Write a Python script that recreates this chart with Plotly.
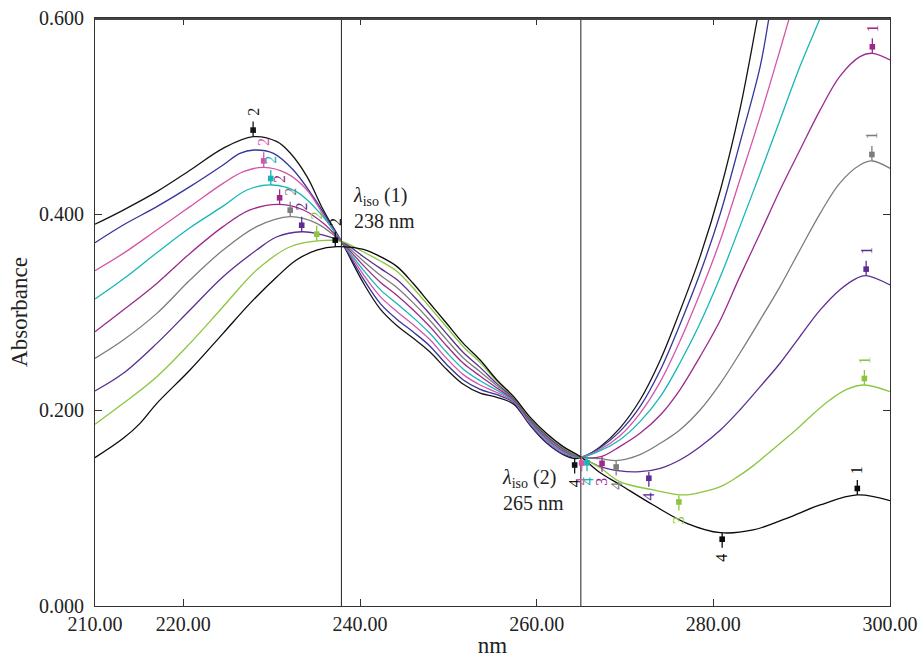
import plotly.graph_objects as go

# ---------------- data ----------------
MID = [240.4, 242.3, 244.2, 246.0, 247.9, 249.8, 251.7, 253.6, 255.5, 257.4, 259.2, 261.1, 263.0]

wl_black1 = [210.0, 213.2, 217.0, 220.8, 224.5, 227.9, 230.6, 232.1, 234.0, 235.85, 237.9] + MID + \
            [264.4, 265.6, 267.2, 269.4, 271.7, 274.0, 276.2, 278.5, 280.8, 283.0, 285.0, 286.0]
abs_black1 = [0.3895, 0.404, 0.4228, 0.4449, 0.467, 0.4789, 0.4738, 0.4622, 0.4381, 0.404, 0.372,
              0.3293, 0.3030, 0.2860, 0.2735, 0.2595, 0.2415, 0.2262, 0.2172, 0.2130, 0.2060, 0.1850, 0.1665, 0.1545,
              0.1505, 0.1535, 0.1626, 0.1813, 0.2102, 0.2511, 0.3004, 0.3565, 0.4245, 0.5062, 0.6000, 0.648]

wl_navy = [210.0, 213.2, 217.0, 220.75, 224.5, 226.4, 228.0, 230.2, 232.45, 234.7, 236.6, 237.9] + MID + \
          [265.0, 267.2, 269.4, 271.7, 274.0, 276.2, 278.5, 280.8, 283.0, 285.3, 286.3, 287.2]
abs_navy = [0.3707, 0.3888, 0.4075, 0.4279, 0.4500, 0.4619, 0.4653, 0.4619, 0.4449, 0.4177, 0.3905, 0.372,
            0.3335, 0.3086, 0.2924, 0.2798, 0.2654, 0.2465, 0.2306, 0.2211, 0.2156, 0.2076, 0.1857, 0.1672, 0.1551,
            0.152, 0.1616, 0.1779, 0.2034, 0.2408, 0.2868, 0.3395, 0.4007, 0.4721, 0.5504, 0.600, 0.645]

wl_pink = [210.0, 213.2, 217.0, 220.75, 224.5, 226.8, 229.1, 231.7, 234.0, 236.2, 237.9] + MID + \
          [265.0, 267.2, 269.4, 271.7, 274.0, 276.2, 278.5, 280.8, 283.0, 285.3, 287.55, 288.6, 289.6]
abs_pink = [0.3422, 0.3598, 0.3837, 0.4075, 0.4313, 0.4432, 0.4476, 0.4415, 0.4245, 0.3939, 0.372,
            0.3380, 0.3157, 0.3003, 0.2872, 0.2719, 0.2527, 0.2361, 0.2255, 0.2179, 0.2085, 0.1868, 0.1686, 0.1562,
            0.152, 0.1599, 0.1735, 0.1966, 0.2289, 0.2698, 0.3191, 0.3735, 0.4347, 0.4994, 0.5674, 0.600, 0.632]

wl_cyan = [210.0, 213.2, 217.0, 220.75, 224.5, 227.2, 230.0, 232.8, 235.5, 237.9] + MID + \
          [265.0, 267.2, 269.4, 271.7, 274.0, 276.2, 278.5, 280.8, 283.0, 285.3, 287.55, 289.8, 292.1, 293.1]
abs_cyan = [0.3132, 0.3336, 0.3605, 0.3860, 0.4080, 0.4245, 0.4296, 0.4228, 0.4007, 0.372,
            0.3425, 0.3228, 0.3083, 0.2945, 0.2783, 0.2589, 0.2417, 0.2299, 0.2201, 0.2094, 0.1879, 0.1699, 0.1573,
            0.152, 0.1585, 0.1694, 0.1881, 0.2136, 0.2477, 0.2885, 0.3361, 0.3871, 0.4415, 0.4960, 0.5504, 0.600, 0.622]

wl_magenta = [210.0, 213.2, 217.0, 220.75, 224.5, 227.55, 230.9, 233.6, 235.85, 237.9] + MID + \
             [265.0, 267.3, 269.4, 271.7, 274.0, 276.2, 278.5, 280.8, 283.0, 285.3, 287.55, 289.8, 292.1, 294.3, 296.6, 298.0, 300.0]
abs_magenta = [0.2799, 0.3020, 0.3292, 0.3598, 0.3871, 0.4041, 0.4099, 0.4041, 0.3905, 0.372,
               0.3473, 0.3304, 0.3169, 0.3023, 0.2852, 0.2656, 0.2476, 0.2347, 0.2224, 0.2103, 0.1891, 0.1713, 0.1585,
               0.152, 0.1525, 0.1626, 0.1762, 0.1949, 0.2204, 0.2545, 0.2919, 0.3361, 0.3803, 0.4245, 0.4653, 0.5062,
               0.5402, 0.5606, 0.5640, 0.5572]

wl_gray = [210.0, 213.2, 217.0, 220.75, 224.5, 228.3, 232.1, 235.1, 237.9] + MID + \
          [265.0, 267.2, 269.2, 271.7, 274.0, 276.2, 278.5, 280.8, 283.0, 285.3, 287.55, 289.8, 292.1, 294.3, 296.6, 298.0, 300.0]
abs_gray = [0.2527, 0.2714, 0.2986, 0.3326, 0.3632, 0.3871, 0.3973, 0.3905, 0.372,
            0.3519, 0.3375, 0.3248, 0.3096, 0.2916, 0.2718, 0.2531, 0.2391, 0.2247, 0.2112, 0.1902, 0.1726, 0.1596,
            0.152, 0.1503, 0.1485, 0.1545, 0.1660, 0.1796, 0.2000, 0.2272, 0.2579, 0.2919, 0.3259, 0.3633, 0.4007,
            0.4313, 0.4500, 0.4541, 0.4466]

wl_indigo = [210.0, 213.2, 217.0, 220.75, 224.5, 228.3, 230.6, 233.4, 235.85, 237.9] + MID + \
            [265.0, 267.2, 269.4, 271.7, 274.0, 276.2, 278.5, 280.8, 283.0, 285.3, 287.55, 289.8, 292.1, 294.3, 296.2, 297.3, 300.0]
abs_indigo = [0.2194, 0.2374, 0.2680, 0.3020, 0.3360, 0.3632, 0.3768, 0.3819, 0.3785, 0.372,
              0.3564, 0.3445, 0.3328, 0.3169, 0.2980, 0.2780, 0.2587, 0.2435, 0.2269, 0.2121, 0.1913, 0.1740, 0.1607,
              0.152, 0.1422, 0.1378, 0.1371, 0.1405, 0.1490, 0.1626, 0.1796, 0.2000, 0.2238, 0.2477, 0.2749, 0.3021,
              0.3225, 0.3344, 0.3371, 0.3276]

wl_green = [210.0, 213.2, 217.0, 220.75, 224.5, 228.3, 232.1, 235.5, 237.9] + MID + \
           [265.0, 267.2, 269.4, 273.2, 276.6, 278.9, 280.8, 282.6, 284.5, 286.5, 289.4, 291.3, 293.2, 295.1, 297.1, 300.0]
abs_green = [0.1854, 0.2068, 0.2340, 0.2680, 0.3054, 0.3428, 0.3666, 0.3728, 0.372,
             0.3612, 0.3521, 0.3414, 0.3248, 0.3049, 0.2847, 0.2646, 0.2483, 0.2292, 0.2131, 0.1925, 0.1754, 0.1619,
             0.152, 0.141, 0.1269, 0.1184, 0.1133, 0.1167, 0.1218, 0.131, 0.143, 0.158, 0.180, 0.196, 0.2102,
             0.221, 0.2255, 0.2187]

wl_black2 = [210.0, 213.2, 215.1, 217.0, 220.75, 224.5, 227.55, 230.6, 232.8, 235.1, 237.4] + MID + \
            [265.0, 267.2, 269.4, 273.2, 277.0, 280.8, 284.5, 288.3, 292.1, 296.3, 300.0]
abs_black2 = [0.1514, 0.1711, 0.1864, 0.2068, 0.2408, 0.2782, 0.3088, 0.3360, 0.3530, 0.3632, 0.3667,
              0.3640, 0.3565, 0.3463, 0.3293, 0.3089, 0.2885, 0.2680, 0.2510, 0.2306, 0.2136, 0.1932, 0.1762, 0.1626,
              0.152, 0.136, 0.124, 0.103, 0.0844, 0.0748, 0.0776, 0.0895, 0.1031, 0.1133, 0.1075]

series_names = ["black1", "navy", "pink", "cyan", "magenta", "gray", "indigo", "green", "black2"]
series_wl = [wl_black1, wl_navy, wl_pink, wl_cyan, wl_magenta, wl_gray, wl_indigo, wl_green, wl_black2]
series_abs = [abs_black1, abs_navy, abs_pink, abs_cyan, abs_magenta, abs_gray, abs_indigo, abs_green, abs_black2]
series_colors = {"black1": "#151515", "navy": "#35359a", "pink": "#d455a8", "cyan": "#17b6b6",
                 "magenta": "#9c2a8c", "gray": "#7d7d7d", "indigo": "#5c2e91", "green": "#8cc63f",
                 "black2": "#0a0a0a"}

# peak / valley picks
pick_series = ["black1", "pink", "cyan", "magenta", "gray", "indigo", "green", "black2",
               "black1", "pink", "cyan", "magenta", "gray", "indigo", "green", "black2",
               "magenta", "gray", "indigo", "green", "black2"]
pick_wl = [227.9, 229.1, 229.9, 230.9, 232.1, 233.4, 235.1, 237.2,
           264.3, 265.1, 265.7, 267.4, 269.0, 272.7, 276.1, 281.0,
           298.0, 297.95, 297.3, 297.1, 296.3]
pick_abs = [0.479, 0.4476, 0.4296, 0.4099, 0.3973, 0.3819, 0.3728, 0.3667,
            0.1505, 0.1525, 0.1528, 0.1522, 0.1485, 0.137, 0.1128, 0.0748,
            0.564, 0.4541, 0.3371, 0.2255, 0.1133]
pick_label = ["2", "2", "2", "2", "2", "2", "2", "2",
              "4", "4", "4", "3", "4", "4", "3", "4",
              "1", "1", "1", "1", "1"]
pick_dir = [1] * 8 + [-1] * 8 + [1] * 5

iso_wl = [237.9, 265.0]

FONT = "Liberation Serif"

# ---------------- figure ----------------
fig = go.Figure()
for name, xs, ys in zip(series_names, series_wl, series_abs):
    fig.add_trace(go.Scatter(x=xs, y=ys, mode="lines", name=name, showlegend=False,
                             hoverinfo="skip",
                             line=dict(color=series_colors[name], width=1.3, shape="spline", smoothing=1.0)))

for xv in iso_wl:
    fig.add_shape(type="line", xref="x", yref="y domain", x0=xv, x1=xv, y0=0, y1=1,
                  line=dict(color="#333333", width=1.1), layer="above")

# plot frame top edge: a thin band lying just inside the top of the plot area
fig.add_shape(type="rect", xref="paper", yref="paper", x0=0, x1=1,
              ysizemode="pixel", yanchor=1, y0=-2.0, y1=0.0,
              fillcolor="#444444", line=dict(width=0), layer="above")

for s, xv, yv, lab, d in zip(pick_series, pick_wl, pick_abs, pick_label, pick_dir):
    col = series_colors[s]
    fig.add_shape(type="line", xref="x", yref="y", ysizemode="pixel", yanchor=yv,
                  x0=xv, x1=xv, y0=0, y1=15 * d, line=dict(color=col, width=1.3))
    fig.add_shape(type="rect", xref="x", yref="y", xsizemode="pixel", xanchor=xv,
                  ysizemode="pixel", yanchor=yv,
                  x0=-2.8, x1=2.8, y0=(6.5 - 2.8) * d, y1=(6.5 + 2.8) * d,
                  fillcolor=col, line=dict(width=0))
    fig.add_annotation(x=xv, y=yv, xref="x", yref="y", text=lab, showarrow=False,
                       textangle=-90, yshift=25 * d,
                       font=dict(family=FONT, size=16, color=col))

fig.add_annotation(x=238.95, y=0.406, xref="x", yref="y", xanchor="left", yanchor="middle",
                   align="left", showarrow=False,
                   text="<i>λ</i><sub>iso</sub> (1)<br>238 nm",
                   font=dict(family=FONT, size=20, color="#222222"))
fig.add_annotation(x=255.85, y=0.118, xref="x", yref="y", xanchor="left", yanchor="middle",
                   align="left", showarrow=False,
                   text="<i>λ</i><sub>iso</sub> (2)<br>265 nm",
                   font=dict(family=FONT, size=20, color="#222222"))

axis_common = dict(showline=True, linecolor="#333333", linewidth=1.2, mirror="allticks",
                   ticks="inside", ticklen=7, tickcolor="#333333", tickwidth=1.1,
                   showgrid=False, zeroline=False, automargin=False,
                   ticklabeloverflow="allow",
                   tickfont=dict(family=FONT, size=20, color="#222222"))

fig.update_xaxes(range=[210, 300], tickvals=[210, 220, 240, 260, 280, 300],
                 tickformat=".2f",
                 title=dict(text="nm", font=dict(family=FONT, size=23, color="#222222"), standoff=2),
                 **axis_common)
fig.update_yaxes(range=[0, 0.6], tickvals=[0, 0.2, 0.4, 0.6], tickformat=".3f",
                 ticklabelstandoff=6,
                 title=dict(text="Absorbance", font=dict(family=FONT, size=23, color="#222222"), standoff=4),
                 **axis_common)

fig.update_layout(width=921, height=658, margin=dict(l=95, r=31, t=18, b=52),
                  paper_bgcolor="white", plot_bgcolor="white", hovermode=False)

# remove the default 8 px page margin so the figure sits at the window's corner
fig.write_html("out.html", config={"displayModeBar": False},
               post_script="document.body.style.margin='0';document.body.style.overflow='hidden';")
